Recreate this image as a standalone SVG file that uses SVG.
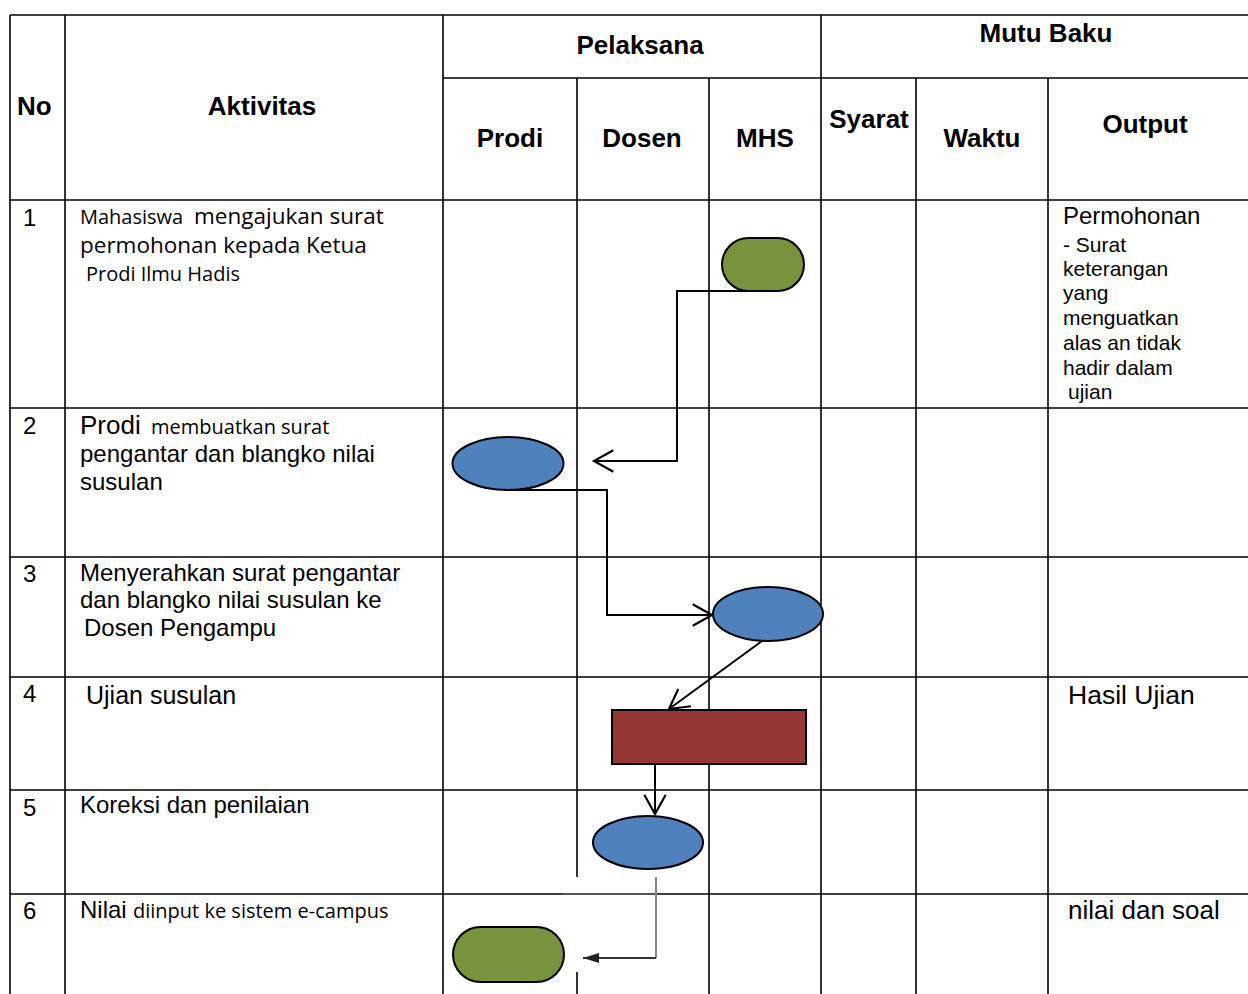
<svg xmlns="http://www.w3.org/2000/svg" width="1248" height="994" viewBox="0 0 1248 994">
<style>
.grid line{stroke:#000;stroke-width:1.6}
.h{font-family:"Liberation Sans",Arial,sans-serif;font-weight:bold;font-size:26px;fill:#000}
.a{font-family:"Liberation Sans",Arial,sans-serif;fill:#000}
.o{font-family:"Open Sans",sans-serif;fill:#000}
.node{stroke:#000;stroke-width:2}
.conn{fill:none;stroke:#000;stroke-width:2}
</style>
<defs>
<marker id="open" markerUnits="userSpaceOnUse" markerWidth="30" markerHeight="30" viewBox="-22 -14 26 28" refX="0" refY="0" orient="auto" overflow="visible">
<path d="M-18,-10 L0,0 L-18,10" fill="none" stroke="#000" stroke-width="2"/>
</marker>
<marker id="solid" markerUnits="userSpaceOnUse" markerWidth="20" markerHeight="14" viewBox="-18 -7 20 14" refX="0" refY="0" orient="auto" overflow="visible">
<path d="M-16,-5 L0,0 L-16,5 Z" fill="#222" stroke="none"/>
</marker>
</defs>
<rect width="1248" height="994" fill="#fff"/>
<g class="grid">
<line x1="10" y1="15" x2="1248" y2="15"/>
<line x1="443" y1="78" x2="1248" y2="78"/>
<line x1="10" y1="200" x2="1248" y2="200"/>
<line x1="10" y1="408" x2="1248" y2="408"/>
<line x1="10" y1="557" x2="1248" y2="557"/>
<line x1="10" y1="677" x2="1248" y2="677"/>
<line x1="10" y1="790" x2="1248" y2="790"/>
<line x1="10" y1="894" x2="1248" y2="894"/>
<line x1="10" y1="15" x2="10" y2="994"/>
<line x1="65" y1="15" x2="65" y2="994"/>
<line x1="443" y1="15" x2="443" y2="994"/>
<line x1="577" y1="78" x2="577" y2="994"/>
<line x1="709" y1="78" x2="709" y2="994"/>
<line x1="821" y1="15" x2="821" y2="994"/>
<line x1="916" y1="78" x2="916" y2="994"/>
<line x1="1048" y1="78" x2="1048" y2="994"/>
</g>
<g id="header">
<text class="h" x="17" y="115">No</text>
<text class="h" x="262" y="115" text-anchor="middle">Aktivitas</text>
<text class="h" x="640" y="54" text-anchor="middle">Pelaksana</text>
<text class="h" x="1046" y="42" text-anchor="middle">Mutu Baku</text>
<text class="h" x="510" y="147" text-anchor="middle">Prodi</text>
<text class="h" x="642" y="147" text-anchor="middle">Dosen</text>
<text class="h" x="765" y="147" text-anchor="middle">MHS</text>
<text class="h" x="869" y="128" text-anchor="middle">Syarat</text>
<text class="h" x="982" y="147" text-anchor="middle">Waktu</text>
<text class="h" x="1145" y="133" text-anchor="middle">Output</text>
</g>
<g id="numbers" class="a" font-size="24">
<text x="23" y="226">1</text>
<text x="23" y="434">2</text>
<text x="23" y="582">3</text>
<text x="23" y="702">4</text>
<text x="23" y="816">5</text>
<text x="23" y="919">6</text>
</g>
<g id="activities">
<text class="o" font-size="20" x="80" y="224">Mahasiswa</text>
<text class="o" font-size="22.5" x="194" y="224">mengajukan surat</text>
<text class="o" font-size="22.5" x="80" y="253">permohonan kepada Ketua</text>
<text class="o" font-size="20" x="86" y="281">Prodi Ilmu Hadis</text>
<text class="a" font-size="26" x="80" y="434">Prodi</text>
<text class="o" font-size="20" x="151" y="434">membuatkan surat</text>
<text class="a" font-size="24" x="80" y="462">pengantar dan blangko nilai</text>
<text class="a" font-size="24" x="80" y="490">susulan</text>
<text class="a" font-size="24" x="80" y="581">Menyerahkan surat pengantar</text>
<text class="a" font-size="24" x="80" y="608">dan blangko nilai susulan ke</text>
<text class="a" font-size="24" x="84" y="636">Dosen Pengampu</text>
<text class="a" font-size="25" x="86" y="704">Ujian susulan</text>
<text class="a" font-size="24" x="80" y="813">Koreksi dan penilaian</text>
<text class="a" font-size="24" x="80" y="918">Nilai</text>
<text class="o" font-size="20" x="133" y="918">diinput ke sistem e-campus</text>
</g>
<g id="outputs" class="a">
<text font-size="24" x="1063" y="224">Permohonan</text>
<text font-size="21" x="1063" y="252">- Surat</text>
<text font-size="21" x="1063" y="276">keterangan</text>
<text font-size="21" x="1063" y="300">yang</text>
<text font-size="21" x="1063" y="325">menguatkan</text>
<text font-size="21" x="1063" y="350">alas an tidak</text>
<text font-size="21" x="1063" y="375">hadir dalam</text>
<text font-size="21" x="1068" y="399">ujian</text>
<text font-size="26.5" x="1068" y="704">Hasil Ujian</text>
<text font-size="26" x="1068" y="919">nilai dan soal</text>
</g>
<g id="patch">
<rect x="563" y="877" width="94" height="95" fill="#fff"/>
<line x1="563" y1="894" x2="656" y2="894" stroke="#555" stroke-width="2"/>
</g>
<g id="connectors">
<path class="conn" d="M770,291 H677 V461 H594" marker-end="url(#open)"/>
<path class="conn" d="M505,490 H607 V615 H712" marker-end="url(#open)"/>
<path class="conn" d="M762,641 L669,709" marker-end="url(#open)"/>
<path class="conn" d="M655,764 V814" marker-end="url(#open)"/>
<path d="M656,877 V958" fill="none" stroke="#888" stroke-width="2"/>
<path d="M656,958 H583" fill="none" stroke="#333" stroke-width="2.2" marker-end="url(#solid)"/>
</g>
<g id="n1-start"><rect class="node" x="722" y="238" width="82" height="53" rx="26.5" fill="#77933C"/></g>
<g id="n2-prodi"><ellipse class="node" cx="508" cy="463.5" rx="55.5" ry="26.5" fill="#4F81BD"/></g>
<g id="n3-mhs"><ellipse class="node" cx="768" cy="614" rx="55" ry="27" fill="#4F81BD"/></g>
<g id="n4-ujian"><rect class="node" x="612" y="710" width="194" height="54" fill="#953735"/></g>
<g id="n5-koreksi"><ellipse class="node" cx="648" cy="842.5" rx="55" ry="26.5" fill="#4F81BD"/></g>
<g id="n6-end"><rect class="node" x="453" y="927" width="111" height="55" rx="27.5" fill="#77933C"/></g>
</svg>
